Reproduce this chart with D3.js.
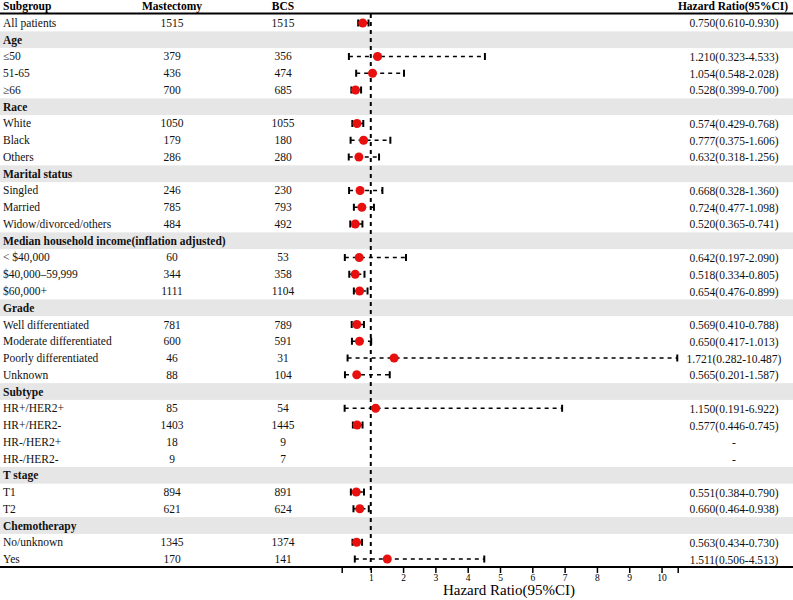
<!DOCTYPE html>
<html>
<head>
<meta charset="utf-8">
<script src="https://cdn.jsdelivr.net/npm/d3@7"></script>
<style>
  body { margin: 0; background: #fff; }
  text { font-family: "Liberation Serif", "Times New Roman", serif; }
</style>
</head>
<body>
<script>
// rows of the table, top to bottom
var labels = ["All patients", "Age", "\u226450", "51-65", "\u226566", "Race", "White", "Black", "Others",
  "Marital status", "Singled", "Married", "Widow/divorced/others",
  "Median household income(inflation adjusted)", "< $40,000", "$40,000\u201359,999", "$60,000+",
  "Grade", "Well differentiated", "Moderate differentiated", "Poorly differentiated", "Unknown",
  "Subtype", "HR+/HER2+", "HR+/HER2-", "HR-/HER2+", "HR-/HER2-",
  "T stage", "T1", "T2", "Chemotherapy", "No/unknown", "Yes"];
var isGroup = [0, 1, 0, 0, 0, 1, 0, 0, 0, 1, 0, 0, 0, 1, 0, 0, 0, 1, 0, 0, 0, 0, 1, 0, 0, 0, 0, 1, 0, 0, 1, 0, 0];
var mastectomy = [1515, null, 379, 436, 700, null, 1050, 179, 286, null, 246, 785, 484, null, 60, 344, 1111,
  null, 781, 600, 46, 88, null, 85, 1403, 18, 9, null, 894, 621, null, 1345, 170];
var bcs = [1515, null, 356, 474, 685, null, 1055, 180, 280, null, 230, 793, 492, null, 53, 358, 1104,
  null, 789, 591, 31, 104, null, 54, 1445, 9, 7, null, 891, 624, null, 1374, 141];
var hr = [0.750, null, 1.210, 1.054, 0.528, null, 0.574, 0.777, 0.632, null, 0.668, 0.724, 0.520, null, 0.642, 0.518, 0.654,
  null, 0.569, 0.650, 1.721, 0.565, null, 1.150, 0.577, null, null, null, 0.551, 0.660, null, 0.563, 1.511];
var lower = [0.610, null, 0.323, 0.548, 0.399, null, 0.429, 0.375, 0.318, null, 0.328, 0.477, 0.365, null, 0.197, 0.334, 0.476,
  null, 0.410, 0.417, 0.282, 0.201, null, 0.191, 0.446, null, null, null, 0.384, 0.464, null, 0.434, 0.506];
var upper = [0.930, null, 4.533, 2.028, 0.700, null, 0.768, 1.606, 1.256, null, 1.360, 1.098, 0.741, null, 2.090, 0.805, 0.899,
  null, 0.788, 1.013, 10.487, 1.587, null, 6.922, 0.745, null, null, null, 0.790, 0.938, null, 0.730, 4.513];
var xTicks = [0.1, 1, 2, 3, 4, 5, 6, 7, 8, 9, 10, 10.5];

var w = 793, h = 600;
var fs = 11.5;
var svg = d3.select("body").append("svg").attr("width", w).attr("height", h);

var rows = labels.map(function (l, i) {
  return { i: i, label: l, group: isGroup[i], m: mastectomy[i], b: bcs[i], hr: hr[i], lo: lower[i], hi: upper[i] };
});

var y = d3.scaleBand().domain(d3.range(rows.length)).range([14.6, 567.4]);
var x = d3.scaleLinear().domain([0.1, 10.5]).range([341.7, 677.7]);
var yc = function (d) { return y(d.i) + y.bandwidth() / 2; };

// grey bands behind group headers
svg.append("g").selectAll("rect")
  .data(rows.filter(function (d) { return d.group; }))
  .enter().append("rect")
  .attr("x", 0).attr("width", w)
  .attr("y", function (d) { return y(d.i); })
  .attr("height", y.bandwidth())
  .attr("fill", "#e6e6e6");

// header
var head = svg.append("g").attr("font-size", fs).attr("font-weight", "bold");
head.append("text").attr("x", 3).attr("y", 10).text("Subgroup");
head.append("text").attr("x", 172).attr("y", 10).attr("text-anchor", "middle").text("Mastectomy");
head.append("text").attr("x", 283).attr("y", 10).attr("text-anchor", "middle").text("BCS");
head.append("text").attr("x", 733).attr("y", 10).attr("text-anchor", "middle").text("Hazard Ratio(95%CI)");
svg.append("line").attr("x1", 0).attr("x2", w).attr("y1", 13.5).attr("y2", 13.5)
  .attr("stroke", "#000").attr("stroke-width", 2);

// table text
var txt = svg.append("g").attr("font-size", fs).attr("fill", "#111");
txt.selectAll(".lab").data(rows).enter().append("text")
  .attr("class", "lab")
  .attr("x", 3).attr("y", function (d) { return yc(d) + 4; })
  .attr("font-weight", function (d) { return d.group ? "bold" : "normal"; })
  .text(function (d) { return d.label; });
txt.selectAll(".m").data(rows.filter(function (d) { return d.m != null; })).enter().append("text")
  .attr("x", 172).attr("y", function (d) { return yc(d) + 4; })
  .attr("text-anchor", "middle").text(function (d) { return d.m; });
txt.selectAll(".b").data(rows.filter(function (d) { return d.b != null; })).enter().append("text")
  .attr("x", 283).attr("y", function (d) { return yc(d) + 4; })
  .attr("text-anchor", "middle").text(function (d) { return d.b; });
txt.selectAll(".hr").data(rows.filter(function (d) { return !d.group; })).enter().append("text")
  .attr("x", 734).attr("y", function (d) { return yc(d) + 4.5; })
  .attr("text-anchor", "middle")
  .text(function (d) {
    if (d.hr == null) return "-";
    return d.hr.toFixed(3) + "(" + d.lo.toFixed(3) + "-" + d.hi.toFixed(3) + ")";
  });

// axis
var axis = svg.append("g").attr("transform", "translate(0,567)")
  .call(d3.axisBottom(x).tickValues(xTicks).tickSize(6).tickPadding(1)
    .tickFormat(function (d) { return (d === 0.1 || d === 10.5) ? "" : d; }));
axis.select(".domain").remove();
axis.selectAll(".tick line").attr("stroke-width", 1.5);
axis.selectAll(".tick text").attr("font-size", 9.5);
svg.append("line").attr("x1", 0).attr("x2", w).attr("y1", 567).attr("y2", 567)
  .attr("stroke", "#000").attr("stroke-width", 2);
svg.append("text").attr("x", 509).attr("y", 594.5).attr("text-anchor", "middle")
  .attr("font-size", 15).text("Hazard Ratio(95%CI)");

// reference line at 1
svg.append("line").attr("x1", x(1)).attr("x2", x(1)).attr("y1", 14).attr("y2", 572)
  .attr("stroke", "#000").attr("stroke-width", 2).attr("stroke-dasharray", "4,4");

// CIs and points
var est = rows.filter(function (d) { return d.hr != null; });
var ci = svg.append("g");
ci.selectAll(".ci").data(est).enter().append("line")
  .attr("x1", function (d) { return x(d.lo); }).attr("x2", function (d) { return x(d.hi); })
  .attr("y1", yc).attr("y2", yc)
  .attr("stroke", "#000").attr("stroke-width", 1.5).attr("stroke-dasharray", "4,4");
["lo", "hi"].forEach(function (k) {
  ci.selectAll(".cap" + k).data(est).enter().append("line")
    .attr("x1", function (d) { return x(d[k]); }).attr("x2", function (d) { return x(d[k]); })
    .attr("y1", function (d) { return yc(d) - 3.5; }).attr("y2", function (d) { return yc(d) + 3.5; })
    .attr("stroke", "#000").attr("stroke-width", 2);
});
ci.selectAll("circle").data(est).enter().append("circle")
  .attr("cx", function (d) { return x(d.hr); }).attr("cy", yc)
  .attr("r", 4.5).attr("fill", "#e8100f");
</script>
</body>
</html>
